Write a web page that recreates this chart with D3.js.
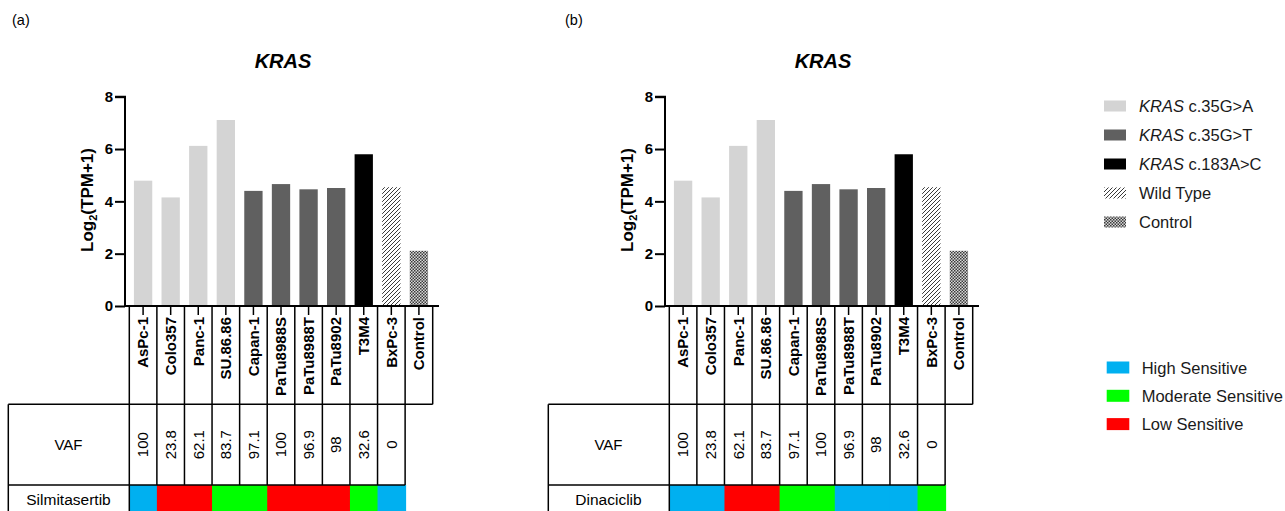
<!DOCTYPE html>
<html>
<head>
<meta charset="utf-8">
<script src="https://cdn.jsdelivr.net/npm/d3@7"></script>
<style>
  html, body { margin: 0; padding: 0; background: #fff; }
  svg { display: block; font-family: "Liberation Sans", Arial, sans-serif; }
</style>
</head>
<body>
<svg id="chart" width="1285" height="511"></svg>
<script>
// ---------------- DATA ----------------
const cellLines = ["AsPc-1", "Colo357", "Panc-1", "SU.86.86", "Capan-1", "PaTu8988S", "PaTu8988T", "PaTu8902", "T3M4", "BxPc-3", "Control"];
const expression = [4.79, 4.15, 6.12, 7.11, 4.40, 4.66, 4.46, 4.51, 5.80, 4.54, 2.11];
const mutationType = ["35GA", "35GA", "35GA", "35GA", "35GT", "35GT", "35GT", "35GT", "183AC", "WT", "CTRL"];
const vafCells = ["AsPc-1", "Colo357", "Panc-1", "SU.86.86", "Capan-1", "PaTu8988S", "PaTu8988T", "PaTu8902", "T3M4", "BxPc-3"];
const vafValues = ["100", "23.8", "62.1", "83.7", "97.1", "100", "96.9", "98", "32.6", "0"];
const silmitasertib = ["High", "Low", "Low", "Moderate", "Moderate", "Low", "Low", "Low", "Moderate", "High"];
const dinaciclib = ["High", "High", "Low", "Low", "Moderate", "Moderate", "High", "High", "High", "Moderate"];
const yTicks = [0, 2, 4, 6, 8];
const mutationLegend = [
  {key: "35GA", gene: "KRAS", rest: " c.35G>A"},
  {key: "35GT", gene: "KRAS", rest: " c.35G>T"},
  {key: "183AC", gene: "KRAS", rest: " c.183A>C"},
  {key: "WT", gene: "", rest: "Wild Type"},
  {key: "CTRL", gene: "", rest: "Control"}
];
const sensitivityLegend = [
  {key: "High", label: "High Sensitive"},
  {key: "Moderate", label: "Moderate Sensitive"},
  {key: "Low", label: "Low Sensitive"}
];

// ---------------- STYLES ----------------
const svg = d3.select("#chart");
const defs = svg.append("defs");

const hatch = defs.append("pattern").attr("id", "hatch")
  .attr("patternUnits", "userSpaceOnUse").attr("width", 4).attr("height", 4);
hatch.append("rect").attr("width", 4).attr("height", 4).attr("fill", "#fff");
hatch.append("path").attr("d", "M-1,1 l2,-2 M0,4 l4,-4 M3,5 l2,-2")
  .attr("stroke", "#3a3a3a").attr("stroke-width", 1);

const checker = defs.append("pattern").attr("id", "checker")
  .attr("patternUnits", "userSpaceOnUse").attr("width", 3).attr("height", 3);
checker.append("rect").attr("width", 3).attr("height", 3).attr("fill", "#d8d8d8");
checker.append("rect").attr("width", 1.5).attr("height", 1.5).attr("fill", "#3a3a3a");
checker.append("rect").attr("x", 1.5).attr("y", 1.5).attr("width", 1.5).attr("height", 1.5).attr("fill", "#3a3a3a");

const mutFill = {"35GA": "#d4d4d4", "35GT": "#606060", "183AC": "#000000", "WT": "url(#hatch)", "CTRL": "url(#checker)"};
const sensColor = {"High": "#00b0f0", "Moderate": "#00ff00", "Low": "#ff0000"};

// ---------------- SCALES ----------------
const y = d3.scaleLinear().domain([0, 8]).range([306, 96.7]);
const x = d3.scaleBand().domain(cellLines).range([129.3, 432.7]).paddingInner(0.336).paddingOuter(0.168);
const step = x.step();
const cellLeft = d => x(d) - x.paddingOuter() * step;

function panel(dx, tag, tagX, drugName, drugValues) {
  const g = svg.append("g").attr("transform", `translate(${dx},0)`);

  g.append("text").attr("x", tagX).attr("y", 25).attr("font-size", 14.5).text(tag);

  g.append("text").attr("x", 283).attr("y", 68).attr("text-anchor", "middle")
    .attr("font-size", 20).attr("font-weight", "bold").attr("font-style", "italic").text("KRAS");

  // bars
  g.selectAll("rect.bar").data(cellLines).join("rect").attr("class", "bar")
    .attr("x", d => x(d)).attr("width", x.bandwidth())
    .attr("y", (d, i) => y(expression[i])).attr("height", (d, i) => y(0) - y(expression[i]))
    .attr("fill", (d, i) => mutFill[mutationType[i]]);

  // drug row (drawn early so borders sit above)
  g.selectAll("rect.sens").data(vafCells).join("rect").attr("class", "sens")
    .attr("x", d => cellLeft(d)).attr("width", step + 1)
    .attr("y", 485).attr("height", 30)
    .attr("fill", (d, i) => sensColor[drugValues[i]]);

  // y axis
  const yAxis = g.append("g").attr("transform", "translate(125,0)")
    .call(d3.axisLeft(y).tickValues(yTicks).tickSize(10).tickPadding(2).tickFormat(d3.format("d")));
  yAxis.select(".domain").attr("stroke-width", 2).attr("d", `M-10,${y(8)}H0V${y(0)}`);
  yAxis.selectAll(".tick line").attr("stroke-width", 2);
  yAxis.selectAll(".tick text").attr("font-size", 15).attr("font-weight", "bold")
    .attr("font-family", "Liberation Sans, Arial, sans-serif").attr("fill", "#000");

  // y label
  const yl = g.append("text").attr("transform", "translate(93,200) rotate(-90)")
    .attr("text-anchor", "middle").attr("font-size", 17).attr("font-weight", "bold");
  yl.append("tspan").text("Log");
  yl.append("tspan").attr("font-size", 11).attr("dy", 4).text("2");
  yl.append("tspan").attr("dy", -4).text("(TPM+1)");

  // x axis
  const xAxis = g.append("g").attr("transform", `translate(0,${y(0)})`)
    .call(d3.axisBottom(x).tickSize(9).tickPadding(2).tickFormat(""));
  xAxis.select(".domain").attr("stroke-width", 2).attr("d", "M124,0H439");
  xAxis.selectAll(".tick line").attr("stroke-width", 1.5);
  g.selectAll("text.xl").data(cellLines).join("text").attr("class", "xl")
    .attr("transform", d => `translate(${x(d) + x.bandwidth() / 2 + 5.3},317) rotate(-90)`)
    .attr("text-anchor", "end").attr("font-size", 15).attr("font-weight", "bold").text(d => d);

  // label cells grid
  const top = y(0), labBottom = 404.3, vafBottom = 485;
  const lineW = 1.5;
  const right = cellLeft(cellLines[cellLines.length - 1]) + step;
  cellLines.forEach(d => {
    g.append("line").attr("x1", cellLeft(d)).attr("x2", cellLeft(d)).attr("y1", top).attr("y2", labBottom)
      .attr("stroke", "#000").attr("stroke-width", lineW);
  });
  g.append("line").attr("x1", right).attr("x2", right).attr("y1", top).attr("y2", labBottom)
    .attr("stroke", "#000").attr("stroke-width", lineW);
  g.append("line").attr("x1", 8.3).attr("x2", right).attr("y1", labBottom).attr("y2", labBottom)
    .attr("stroke", "#000").attr("stroke-width", lineW);

  // VAF row
  const vafRight = cellLeft(vafCells[vafCells.length - 1]) + step;
  vafCells.forEach((d, i) => {
    g.append("line").attr("x1", cellLeft(d)).attr("x2", cellLeft(d)).attr("y1", labBottom).attr("y2", vafBottom)
      .attr("stroke", "#000").attr("stroke-width", lineW);
    g.append("text").attr("transform", `translate(${x(d) + x.bandwidth() / 2 + 5.3},${(labBottom + vafBottom) / 2}) rotate(-90)`)
      .attr("text-anchor", "middle").attr("font-size", 15).text(vafValues[i]);
  });
  g.append("line").attr("x1", vafRight).attr("x2", vafRight).attr("y1", labBottom).attr("y2", vafBottom)
    .attr("stroke", "#000").attr("stroke-width", lineW);
  g.append("text").attr("x", 68.5).attr("y", (labBottom + vafBottom) / 2 + 5.5).attr("text-anchor", "middle")
    .attr("font-size", 15).text("VAF");

  // drug row borders and label
  g.append("line").attr("x1", 8.3).attr("x2", vafRight).attr("y1", vafBottom).attr("y2", vafBottom)
    .attr("stroke", "#000").attr("stroke-width", lineW);
  g.append("line").attr("x1", 8.3).attr("x2", 8.3).attr("y1", labBottom).attr("y2", 515)
    .attr("stroke", "#000").attr("stroke-width", lineW);
  g.append("line").attr("x1", cellLeft(vafCells[0])).attr("x2", cellLeft(vafCells[0])).attr("y1", vafBottom).attr("y2", 515)
    .attr("stroke", "#000").attr("stroke-width", lineW);
  g.append("text").attr("x", 68.5).attr("y", 505).attr("text-anchor", "middle")
    .attr("font-size", 15.5).text(drugName);
}

panel(0, "(a)", 12, "Silmitasertib", silmitasertib);
panel(540, "(b)", 25, "Dinaciclib", dinaciclib);

// ---------------- LEGENDS ----------------
const lg1 = svg.append("g");
mutationLegend.forEach((m, i) => {
  const cy = 106 + i * 29;
  lg1.append("rect").attr("x", 1104).attr("y", cy - 5.5).attr("width", 22).attr("height", 11).attr("fill", mutFill[m.key]);
  const t = lg1.append("text").attr("x", 1139).attr("y", cy + 6).attr("font-size", 16.5).attr("fill", "#1a1a1a");
  if (m.gene) t.append("tspan").attr("font-style", "italic").text(m.gene);
  t.append("tspan").text(m.rest);
});
const lg2 = svg.append("g");
sensitivityLegend.forEach((s, i) => {
  const cy = 367.5 + i * 28.3;
  lg2.append("rect").attr("x", 1106.7).attr("y", cy - 6).attr("width", 22.6).attr("height", 12).attr("fill", sensColor[s.key]);
  lg2.append("text").attr("x", 1141.7).attr("y", cy + 6).attr("font-size", 16.5).attr("fill", "#1a1a1a").text(s.label);
});
</script>
</body>
</html>
